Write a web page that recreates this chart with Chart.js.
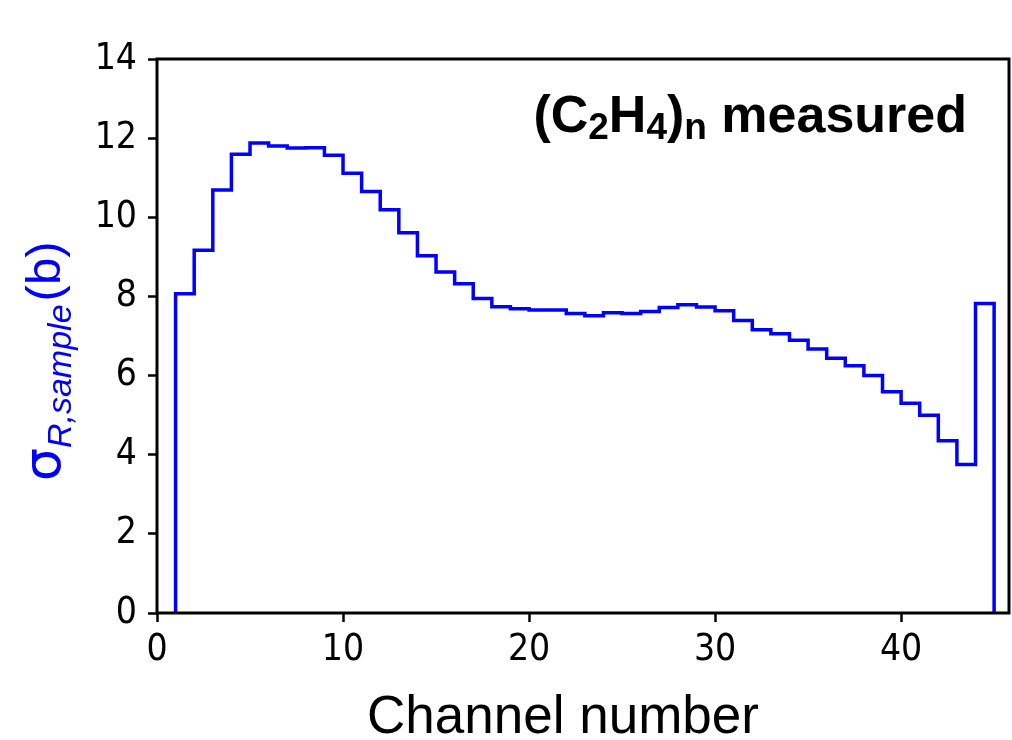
<!DOCTYPE html>
<html>
<head>
<meta charset="utf-8">
<script src="https://cdn.jsdelivr.net/npm/chart.js@4.4.1/dist/chart.umd.min.js"></script>
<style>
  html, body { margin: 0; padding: 0; background: #fff; }
  canvas { display: block; }
</style>
</head>
<body>
<canvas id="histChart" width="1012" height="740"></canvas>
<script>
// --- Data ---
// bin edges (channel i spans [i, i+1])
const channelEdges = [1, 2, 3, 4, 5, 6, 7, 8, 9, 10, 11, 12, 13, 14, 15, 16, 17, 18, 19, 20, 21, 22, 23,
  24, 25, 26, 27, 28, 29, 30, 31, 32, 33, 34, 35, 36, 37, 38, 39, 40, 41, 42, 43, 44, 45];
// sigma per channel (b)
const sigmaValues = [8.07, 9.17, 10.69, 11.59, 11.88, 11.80, 11.75, 11.76, 11.57, 11.11, 10.65,
  10.19, 9.61, 9.03, 8.62, 8.32, 7.95, 7.74, 7.69, 7.66, 7.66, 7.57, 7.51, 7.59, 7.57, 7.62,
  7.72, 7.79, 7.73, 7.64, 7.39, 7.16, 7.06, 6.89, 6.67, 6.44, 6.25, 6.00, 5.59, 5.30, 5.00,
  4.35, 3.75, 7.82];
const xTickValues = [0, 10, 20, 30, 40];
const yTickValues = [0, 2, 4, 6, 8, 10, 12, 14];

// step outline: start at baseline, each point at a bin's right edge, back down at the end
const stepPoints = [{ x: channelEdges[0], y: 0 }];
sigmaValues.forEach((v, i) => stepPoints.push({ x: channelEdges[i + 1], y: v }));
stepPoints.push({ x: channelEdges[channelEdges.length - 1], y: 0 });

// --- Plugins: frame box, in-plot title, axis labels ---
const framePlugin = {
  id: 'frame',
  afterDatasetsDraw(chart) {
    const { ctx, chartArea: a } = chart;
    ctx.save();
    ctx.strokeStyle = '#000';
    ctx.lineWidth = 3;
    ctx.strokeRect(a.left, a.top, a.right - a.left, a.bottom - a.top);
    ctx.restore();
  }
};

const labelsPlugin = {
  id: 'labels',
  afterDraw(chart) {
    const ctx = chart.ctx;
    ctx.save();
    ctx.textBaseline = 'alphabetic';

    // title: (C2H4)n measured, right aligned
    const big = 'bold 52px "Liberation Sans", Arial, sans-serif';
    const small = 'bold 37px "Liberation Sans", Arial, sans-serif';
    const parts = [
      ['(C', big, 0], ['2', small, 7], ['H', big, 0], ['4', small, 7],
      [')', big, 0], ['n', small, 7], [' measured', big, 0]
    ];
    let total = 0;
    parts.forEach(p => { ctx.font = p[1]; total += ctx.measureText(p[0]).width; });
    let x = 967 - total;
    ctx.fillStyle = '#000';
    parts.forEach(p => {
      ctx.font = p[1];
      ctx.fillText(p[0], x, 132 + p[2]);
      x += ctx.measureText(p[0]).width;
    });

    // x axis label
    ctx.font = '53px "Liberation Sans", Arial, sans-serif';
    ctx.textAlign = 'center';
    ctx.fillText('Channel number', 563, 733);
    ctx.textAlign = 'left';

    // y axis label: sigma_{R,sample}(b), rotated
    ctx.translate(60, 481);
    ctx.rotate(-Math.PI / 2);
    ctx.fillStyle = '#0000ff';
    const yParts = [
      ['σ', '52px "DejaVu Sans", sans-serif', 0],
      ['R,sample', 'italic 34px "Liberation Sans", Arial, sans-serif', 11],
      ['(b)', '49px "Liberation Sans", Arial, sans-serif', 0]
    ];
    let yx = 0;
    yParts.forEach(p => {
      ctx.font = p[1];
      ctx.fillText(p[0], yx, p[2]);
      yx += ctx.measureText(p[0]).width + (p[0] === 'R,sample' ? 3 : 0);
    });
    ctx.restore();
  }
};

const tickFont = { family: '"DejaVu Sans Condensed", "DejaVu Sans", sans-serif', size: 37 };

new Chart(document.getElementById('histChart'), {
  type: 'line',
  data: {
    datasets: [{
      label: 'measured',
      data: stepPoints,
      stepped: 'after',
      borderColor: '#0000ff',
      borderWidth: 3.5,
      pointRadius: 0,
      fill: false
    }]
  },
  options: {
    responsive: false,
    animation: false,
    layout: { padding: { top: 59, right: 3, left: 0, bottom: 0 } },
    plugins: {
      legend: { display: false },
      tooltip: { enabled: false },
      title: { display: false }
    },
    scales: {
      x: {
        type: 'linear',
        min: 0,
        max: 45.8,
        afterBuildTicks: s => { s.ticks = xTickValues.map(v => ({ value: v })); },
        afterFit: s => { s.height = 127; },
        grid: { drawOnChartArea: false, drawTicks: true, tickLength: 9, tickWidth: 2.5, color: '#000' },
        border: { display: false },
        ticks: { color: '#000', font: tickFont, padding: 6, maxRotation: 0 },
        title: { display: false }
      },
      y: {
        min: 0,
        max: 14,
        afterBuildTicks: s => { s.ticks = yTickValues.map(v => ({ value: v })); },
        afterFit: s => { s.width = 157; },
        grid: { drawOnChartArea: false, drawTicks: true, tickLength: 9, tickWidth: 2.5, color: '#000' },
        border: { display: false },
        ticks: { color: '#000', font: tickFont, padding: 11 }
      }
    }
  },
  plugins: [framePlugin, labelsPlugin]
});
</script>
</body>
</html>
